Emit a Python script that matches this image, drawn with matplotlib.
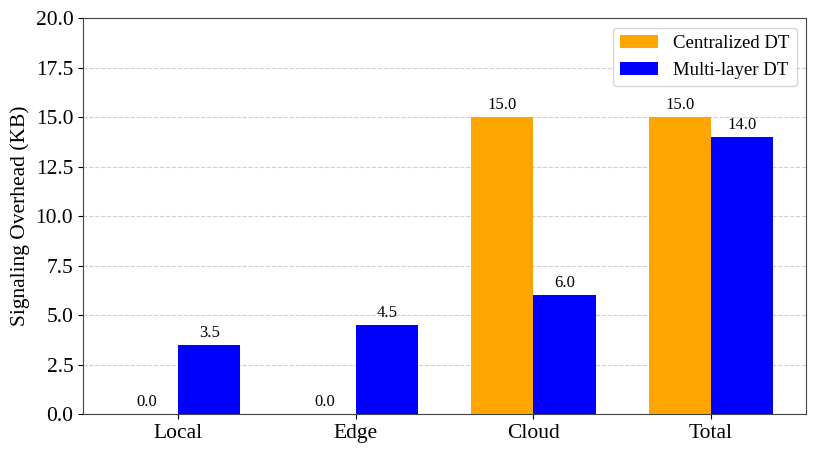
import numpy as np
import matplotlib.pyplot as plt

plt.rcParams['font.family'] = ['Liberation Serif', 'DejaVu Serif']

# data
categories = ['Local', 'Edge', 'Cloud', 'Total']
centralized = [0.0, 0.0, 15.0, 15.0]
multilayer = [3.5, 4.5, 6.0, 14.0]

x = np.arange(len(categories))
width = 0.35

fig = plt.figure(figsize=(8.17, 4.55), dpi=100)
ax = fig.add_axes([0.1016, 0.090, 0.885, 0.870])

b1 = ax.bar(x - width / 2, centralized, width, color='orange', label='Centralized DT')
b2 = ax.bar(x + width / 2, multilayer, width, color='blue', label='Multi-layer DT')

for bars in (b1, b2):
    for bar in bars:
        h = bar.get_height()
        ax.annotate('%.1f' % h, xy=(bar.get_x() + bar.get_width() / 2, h),
                    xytext=(0, 3), textcoords='offset points',
                    ha='center', va='bottom', fontsize=12)

ax.set_ylim(0, 20)
ax.set_yticks(np.arange(0, 20.1, 2.5))
ax.set_yticklabels(['%.1f' % v for v in np.arange(0, 20.1, 2.5)])
ax.set_xticks(x)
ax.set_xticklabels(categories)
ax.tick_params(axis='both', labelsize=15.5)
ax.set_ylabel('Signaling Overhead (KB)', fontsize=15.5)
for s in ax.spines.values():
    s.set_color('#444444')
ax.yaxis.grid(True, linestyle='--', alpha=0.6)
ax.set_axisbelow(True)
ax.legend(fontsize=13.5, loc='upper right')

fig.savefig('out.png', dpi=100)
